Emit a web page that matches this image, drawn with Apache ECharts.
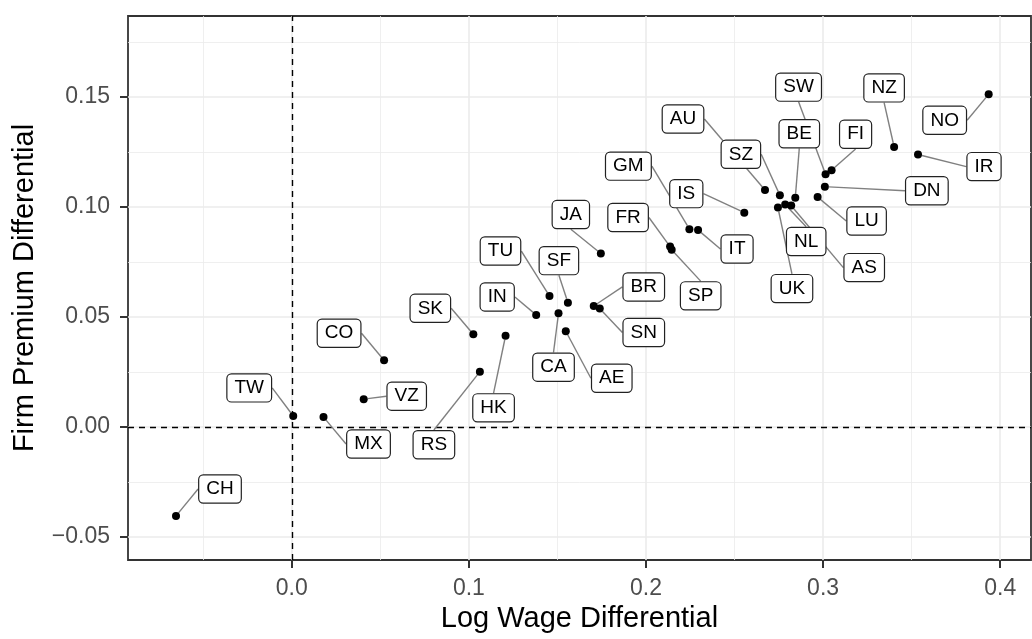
<!DOCTYPE html>
<html>
<head>
<meta charset="utf-8">
<script src="https://cdn.jsdelivr.net/npm/echarts@6/dist/echarts.min.js"></script>
<style>html,body{margin:0;padding:0;background:#fff}#c{width:1032px;height:639px}</style>
</head>
<body>
<div id="c"></div>
<script>
// ---- data ----
const countries = ['CH','TW','MX','VZ','CO','SK','RS','HK','IN','TU','SF','CA','AE','BR','SN','JA','FR','SP','GM','IT','IS','AU','SZ','UK','NL','AS','BE','LU','DN','SW','FI','NZ','IR','NO'];
const logWageDiff = [-0.0654,0.0008,0.0179,0.0406,0.0521,0.1025,0.1062,0.1207,0.1380,0.1455,0.1559,0.1506,0.1547,0.1705,0.1739,0.1745,0.2136,0.2145,0.2245,0.2294,0.2555,0.2672,0.2756,0.2745,0.2786,0.2820,0.2843,0.2969,0.3010,0.3014,0.3048,0.3401,0.3536,0.3935];
const firmPremiumDiff = [-0.0405,0.0050,0.0045,0.0126,0.0303,0.0421,0.0251,0.0414,0.0509,0.0595,0.0565,0.0517,0.0435,0.0550,0.0538,0.0788,0.0820,0.0805,0.0899,0.0895,0.0974,0.1077,0.1053,0.0997,0.1011,0.1006,0.1042,0.1045,0.1092,0.1149,0.1167,0.1273,0.1238,0.1512];
const xTicks = [0.0,0.1,0.2,0.3,0.4];
const xMinor = [-0.05,0.05,0.15,0.25,0.35];
const yTicks = [-0.05,0.0,0.05,0.10,0.15];
const yMinor = [-0.025,0.025,0.075,0.125,0.175];
const refLines = {x: 0, y: 0};

// label placement (pixel offsets from point, repel-style) - layout only
const labelOffsets = [[44,-27],[-44,-28],[45,27],[43,-3],[-45,-27],[-43,-26],[-46,73],[-12,72],[-39,-18],[-49,-45],[-9,-42],[-5,54],[46,47],[50,-19],[44,24],[-30,-39],[-42,-29],[29,46],[-61,-63],[39,19],[-58,-19],[-82,-71],[-39,-41],[14,81],[21,37],[73,62],[4,-64],[49,24],[102,4],[-27,-87],[24,-36],[-10,-59],[66,12],[-44,26]];

const FONT = "'Liberation Sans', Arial, Helvetica, sans-serif";
const xRange = [-0.0925, 0.4174];
const yRange = [-0.0605, 0.1868];

const points = countries.map((c, i) => ({name: c, value: [logWageDiff[i], firmPremiumDiff[i]]}));

function minus(v, d) { const s = Math.abs(v).toFixed(d); return v < -1e-9 ? '\u2212' + s : s; }

const chart = echarts.init(document.getElementById('c'), null, {renderer: 'canvas'});
const tickStyle = {show: true, length: 8, lineStyle: {color: '#333333', width: 2}};
const nameStyle = {fontFamily: FONT, fontSize: 29, color: '#000'};
const labStyle = {fontFamily: FONT, fontSize: 23, color: '#4D4D4D'};
chart.setOption({
  animation: false,
  backgroundColor: '#fff',
  grid: {left: 128, top: 16, right: 1, bottom: 79, show: true, borderColor: '#333333', borderWidth: 1.8, backgroundColor: '#fff'},
  xAxis: [
    {type: 'value', min: xRange[0], max: xRange[1], name: 'Log Wage Differential', nameLocation: 'middle', nameGap: 42,
     nameTextStyle: nameStyle,
     axisLine: {show: false, onZero: false},
     axisTick: Object.assign({customValues: xTicks}, tickStyle),
     axisLabel: Object.assign({customValues: xTicks, formatter: v => minus(v, 1), margin: 17}, labStyle),
     splitLine: {show: true, lineStyle: {color: '#EBEBEB', width: 1.6}}},
    {type: 'value', min: xRange[0], max: xRange[1], position: 'bottom',
     axisLine: {show: false, onZero: false},
     axisTick: {show: false, customValues: xMinor}, axisLabel: {show: false, customValues: xMinor},
     splitLine: {show: true, lineStyle: {color: '#EBEBEB', width: 0.8}}}
  ],
  yAxis: [
    {type: 'value', min: yRange[0], max: yRange[1], name: 'Firm Premium Differential', nameLocation: 'middle', nameGap: 89,
     nameTextStyle: nameStyle,
     axisLine: {show: false, onZero: false},
     axisTick: Object.assign({customValues: yTicks}, tickStyle),
     axisLabel: Object.assign({customValues: yTicks, formatter: v => minus(v, 2), margin: 18}, labStyle),
     splitLine: {show: true, lineStyle: {color: '#EBEBEB', width: 1.6}}},
    {type: 'value', min: yRange[0], max: yRange[1], position: 'left',
     axisLine: {show: false, onZero: false},
     axisTick: {show: false, customValues: yMinor}, axisLabel: {show: false, customValues: yMinor},
     splitLine: {show: true, lineStyle: {color: '#EBEBEB', width: 0.8}}}
  ],
  series: [{
    type: 'scatter',
    xAxisIndex: 0, yAxisIndex: 0,
    data: points,
    symbolSize: 8,
    itemStyle: {color: '#000', opacity: 1},
    z: 5,
    label: {
      show: true, position: 'inside', formatter: p => p.name,
      fontFamily: FONT, fontSize: 19, color: '#000', lineHeight: 20,
      backgroundColor: '#fff', borderColor: '#222', borderWidth: 1.2, borderRadius: 4,
      padding: [4, 7, 3, 7]
    },
    labelLine: {show: true, lineStyle: {color: '#808080', width: 1.4}},
    labelLayout: p => ({dx: labelOffsets[p.dataIndex][0], dy: labelOffsets[p.dataIndex][1]}),
    emphasis: {disabled: true},
    markLine: {
      silent: true, symbol: 'none', label: {show: false},
      lineStyle: {color: '#000', type: [6, 5], width: 1.4},
      data: [{xAxis: refLines.x}, {yAxis: refLines.y}]
    }
  }]
});
</script>
</body>
</html>
